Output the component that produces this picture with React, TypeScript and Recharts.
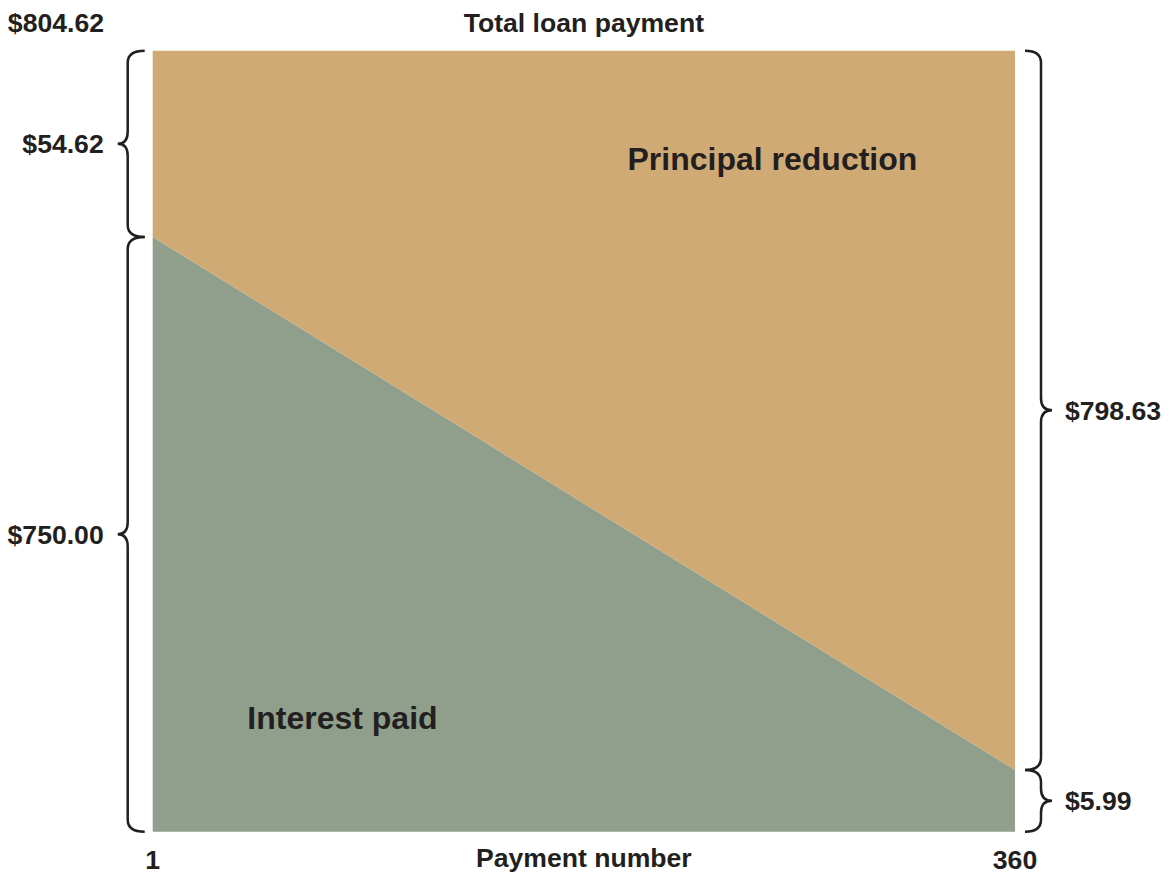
import React from "react";
import { Area, AreaChart, ReferenceArea, ReferenceDot, ReferenceLine, XAxis, YAxis } from "recharts";

const payments = [1, 360];
const interestPaid = [612.7, 63.6];
const principalReduction = [191.92, 741.02];
const totalPayment = 804.62;
const xTicks = [1, 360];
const leftBraceLabels = ["$54.62", "$750.00"];
const rightBraceLabels = ["$798.63", "$5.99"];
const totalLabel = "$804.62";

const data = payments.map((p, i) => ({
  payment: p,
  interest: interestPaid[i],
  principal: principalReduction[i],
}));

const FONT = '"Liberation Sans", Arial, Helvetica, sans-serif';
const INK = "#231f20";
const SMALL = 26.6;

function Brace(props: any) {
  const { x, y, width, height, side, text } = props;
  const top = y;
  const bot = y + height;
  const mid = y + height / 2;
  const left = side === "left";
  const dir = left ? -1 : 1;
  const edge = left ? x : x + width;
  const xe = edge + dir * (left ? 8 : 10);
  const xv = edge + dir * (left ? 25 : 26);
  const xt = edge + dir * (left ? 35 : 37);
  const r = 12;
  const d = [
    `M ${xe} ${top}`,
    `Q ${xv} ${top} ${xv} ${top + r}`,
    `L ${xv} ${mid - r}`,
    `Q ${xv} ${mid} ${xt} ${mid}`,
    `Q ${xv} ${mid} ${xv} ${mid + r}`,
    `L ${xv} ${bot - r}`,
    `Q ${xv} ${bot} ${xe} ${bot}`,
  ].join(" ");
  return (
    <g>
      <path d={d} fill="none" stroke={INK} strokeWidth={2.5} />
      <text
        x={edge + dir * (left ? 49 : 50)}
        y={mid + 9.5}
        textAnchor={left ? "end" : "start"}
        fontFamily={FONT}
        fontWeight="bold"
        fontSize={SMALL}
        fill={INK}
      >
        {text}
      </text>
    </g>
  );
}

export default function App() {
  return (
    <div style={{ position: "absolute", left: 0, top: 0, width: 1169, height: 876, background: "#fff" }}>
      <AreaChart
        width={1169}
        height={876}
        data={data}
        margin={{ top: 50.7, right: 154, bottom: 0, left: 152.7 }}
      >
        <XAxis
          dataKey="payment"
          type="number"
          domain={[1, 360]}
          ticks={xTicks}
          axisLine={false}
          tickLine={false}
          tickSize={0}
          height={44.3}
          interval={0}
          tick={(p: any) => (
            <text
              x={p.x}
              y={p.y + 35}
              textAnchor="middle"
              fontFamily={FONT}
              fontWeight="bold"
              fontSize={SMALL}
              fill={INK}
            >
              {p.payload.value}
            </text>
          )}
          label={(p: any) => {
            const vb = p.viewBox || {};
            return (
              <text
                x={vb.x + vb.width / 2}
                y={vb.y + 35}
                textAnchor="middle"
                fontFamily={FONT}
                fontWeight="bold"
                fontSize={SMALL}
                fill={INK}
              >
                Payment number
              </text>
            );
          }}
        />
        <YAxis hide type="number" domain={[0, totalPayment]} />
        <Area
          type="linear"
          dataKey="interest"
          stackId="a"
          stroke="none"
          fill="#8f9f8c"
          fillOpacity={1}
          dot={false}
          activeDot={false}
          isAnimationActive={false}
        />
        <Area
          type="linear"
          dataKey="principal"
          stackId="a"
          stroke="none"
          fill="#d0aa74"
          fillOpacity={1}
          dot={false}
          activeDot={false}
          isAnimationActive={false}
        />
        <ReferenceArea
          y1={interestPaid[0]}
          y2={totalPayment}
          ifOverflow="visible"
          shape={(p: any) => <Brace {...p} side="left" text={leftBraceLabels[0]} />}
        />
        <ReferenceArea
          y1={0}
          y2={interestPaid[0]}
          ifOverflow="visible"
          shape={(p: any) => <Brace {...p} side="left" text={leftBraceLabels[1]} />}
        />
        <ReferenceArea
          y1={interestPaid[1]}
          y2={totalPayment}
          ifOverflow="visible"
          shape={(p: any) => <Brace {...p} side="right" text={rightBraceLabels[0]} />}
        />
        <ReferenceArea
          y1={0}
          y2={interestPaid[1]}
          ifOverflow="visible"
          shape={(p: any) => <Brace {...p} side="right" text={rightBraceLabels[1]} />}
        />
        <ReferenceLine
          y={totalPayment}
          stroke="none"
          ifOverflow="visible"
          label={(p: any) => {
            const vb = p.viewBox || {};
            return (
              <g>
                <text
                  x={vb.x + vb.width / 2}
                  y={vb.y - 19}
                  textAnchor="middle"
                  fontFamily={FONT}
                  fontWeight="bold"
                  fontSize={SMALL}
                  fill={INK}
                >
                  Total loan payment
                </text>
                <text
                  x={vb.x - 48.7}
                  y={vb.y - 19}
                  textAnchor="end"
                  fontFamily={FONT}
                  fontWeight="bold"
                  fontSize={SMALL}
                  fill={INK}
                >
                  {totalLabel}
                </text>
              </g>
            );
          }}
        />
        <ReferenceDot
          x={259}
          y={694}
          r={0}
          fill="none"
          stroke="none"
          ifOverflow="visible"
          label={(p: any) => {
            const vb = p.viewBox || {};
            return (
              <text
                x={vb.x + (vb.width || 0) / 2}
                y={vb.y + (vb.height || 0) / 2 + 11.5}
                textAnchor="middle"
                fontFamily={FONT}
                fontWeight="bold"
                fontSize={32}
                fill={INK}
              >
                Principal reduction
              </text>
            );
          }}
        />
        <ReferenceDot
          x={80}
          y={118}
          r={0}
          fill="none"
          stroke="none"
          ifOverflow="visible"
          label={(p: any) => {
            const vb = p.viewBox || {};
            return (
              <text
                x={vb.x + (vb.width || 0) / 2}
                y={vb.y + (vb.height || 0) / 2 + 11.5}
                textAnchor="middle"
                fontFamily={FONT}
                fontWeight="bold"
                fontSize={32}
                fill={INK}
              >
                Interest paid
              </text>
            );
          }}
        />
      </AreaChart>
    </div>
  );
}
